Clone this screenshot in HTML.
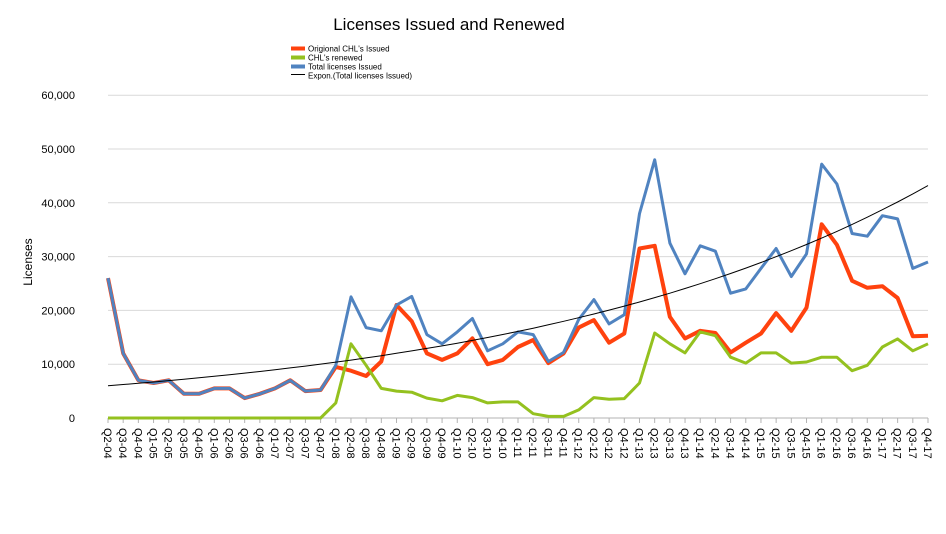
<!DOCTYPE html>
<html><head><meta charset="utf-8"><style>
body{margin:0;background:#fff;width:946px;height:529px;overflow:hidden;font-family:"Liberation Sans",sans-serif}
</style></head><body>
<svg id="s" width="946" height="529" xmlns="http://www.w3.org/2000/svg" font-family="Liberation Sans, sans-serif">
<text x="449" y="30" font-size="17" text-anchor="middle">Licenses Issued and Renewed</text>
<g font-size="8">
<rect x="291" y="46.5" width="14" height="4" fill="#ff420e"/><text x="308" y="51.5">Origional CHL's Issued</text>
<rect x="291" y="55.5" width="14" height="4" fill="#94c11f"/><text x="308" y="60.5">CHL's renewed</text>
<rect x="291" y="64.5" width="14" height="4" fill="#5083c0"/><text x="308" y="69.5">Total licenses Issued</text>
<rect x="291" y="74" width="14" height="1" fill="#000"/><text x="308" y="78.5">Expon.(Total licenses Issued)</text>
</g>
<text transform="translate(32,262) rotate(-90)" font-size="12" text-anchor="middle">Licenses</text>
<g id="grid"></g>
<g id="series"></g>
</svg>
<script>
const s=document.getElementById('series'),g=document.getElementById('grid');
const NS='http://www.w3.org/2000/svg';
const X0=108,STEP=820/54,Y0=418,PY=5.38;
const X=i=>X0+i*STEP,Y=v=>Y0-v*PY;
function el(t,a,p,txt){const e=document.createElementNS(NS,t);for(const k in a)e.setAttribute(k,a[k]);if(txt)e.textContent=txt;(p||g).appendChild(e);return e;}
for(let k=0;k<=6;k++){const y=Y(k*10);
 el('line',{x1:X0,x2:928,y1:y,y2:y,stroke:k?'#d9d9d9':'#b3b3b3','stroke-width':1});
 el('text',{x:75,y:y+4,'font-size':11,'text-anchor':'end'},g,k?(k*10)+',000':'0');}
const labels=[];labels.push('Q2-04','Q3-04','Q4-04');
for(let yr=5;yr<=17;yr++)for(let q=1;q<=4;q++)labels.push('Q'+q+'-'+String(yr).padStart(2,'0'));
labels.forEach((l,i)=>{const x=X(i);
 el('line',{x1:x,x2:x,y1:418,y2:423,stroke:'#b3b3b3'});
 el('text',{transform:`translate(${x-4},428) rotate(90)`,'font-size':11},g,l);});
const early=[26,12,7,6.5,7,4.5,4.5,5.5,5.5,3.7,4.5,5.5,7,5,5.2];
const blue=early.concat([9.8,22.5,16.8,16.2,21,22.6,15.5,13.8,16,18.5,12.5,13.8,16,15.5,10.5,12.2,18.3,22,17.5,19.2,38,48,32.5,26.8,32,31,23.2,24,27.8,31.5,26.3,30.5,47.2,43.5,34.3,33.8,37.6,37,27.8,29]);
const orange=early.concat([9.5,8.8,7.8,10.5,21,18,12,10.8,12,14.8,10,10.8,13.2,14.5,10.2,12,16.8,18.2,14,15.7,31.5,32,18.8,14.8,16.2,15.8,12.2,14,15.7,19.5,16.2,20.5,36,32.2,25.5,24.2,24.5,22.3,15.2,15.3]);
const green=new Array(15).fill(0).concat([2.8,13.8,9.8,5.5,5,4.8,3.7,3.2,4.2,3.8,2.8,3,3,0.8,0.3,0.3,1.5,3.8,3.5,3.6,6.5,15.8,13.8,12.1,16,15.3,11.3,10.2,12.1,12.1,10.2,10.4,11.3,11.3,8.8,9.8,13.2,14.7,12.5,13.8]);
function line(d,c,w){el('polyline',{points:d.map((v,i)=>X(i).toFixed(1)+','+Y(v).toFixed(1)).join(' '),fill:'none',stroke:c,'stroke-width':w,'stroke-linejoin':'round'},s);}
line(orange,'#ff420e',4);line(green,'#94c11f',3);line(blue,'#5083c0',3);
const k=Math.log(43.2/6)/54,ex=[];for(let i=0;i<55;i++)ex.push(6*Math.exp(k*i));
line(ex,'#000',1);
</script>
</body></html>
